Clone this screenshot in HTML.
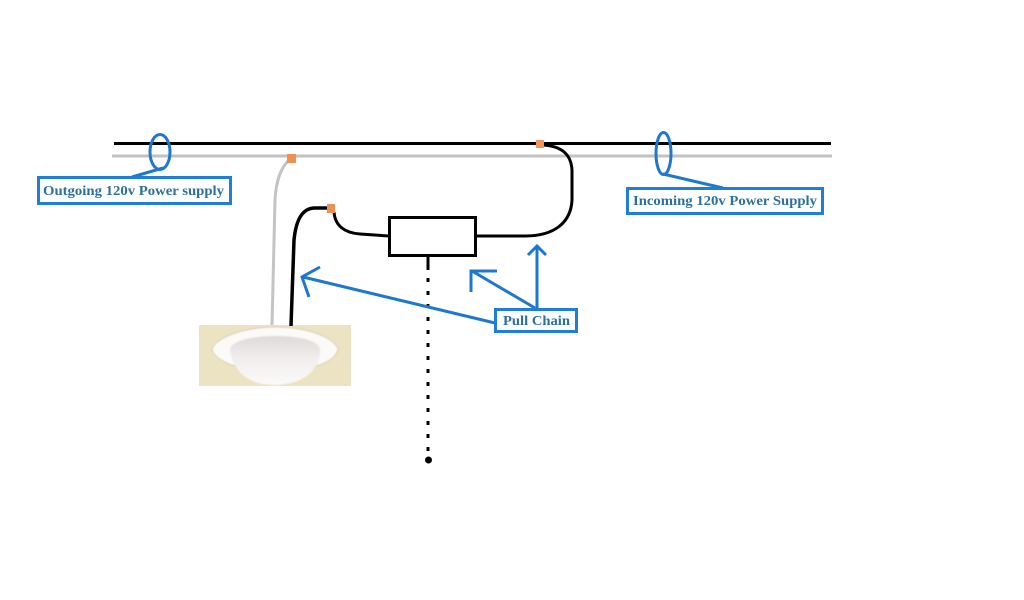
<!DOCTYPE html>
<html><head><meta charset="utf-8"><style>
html,body{margin:0;padding:0;background:#fff;width:1024px;height:600px;overflow:hidden}
svg{display:block}
text{font-family:"Liberation Serif",serif;font-weight:bold;font-size:14px;fill:#2b709f}
</style></head><body>
<svg width="1024" height="600" viewBox="0 0 1024 600" xmlns="http://www.w3.org/2000/svg">
<defs>
<linearGradient id="g" x1="0" y1="0" x2="0" y2="1"><stop offset="0" stop-color="#dedada"/><stop offset=".45" stop-color="#f0eded"/><stop offset="1" stop-color="#fcfaf8"/></linearGradient>
<filter id="s" x="-10%" y="-10%" width="120%" height="120%"><feGaussianBlur stdDeviation="0.8"/></filter>
</defs>
<rect width="1024" height="600" fill="#fff"/>
<!-- lamp -->
<rect x="199" y="325" width="152" height="61" fill="#ece3c3"/>
<g filter="url(#s)">
<path d="M212 349C218 335 250 327 275 327C302 327 332 335 338 349C336 358 325 366 300 369L250 369C228 366 214 358 212 349Z" fill="#fbfaf6" stroke="#a8a48c" stroke-width=".5"/>
<path d="M230 349C232 340 255 336 275 336C298 336 318 340 320 349C321 362 312 384 275 385C240 385 231 362 230 349Z" fill="url(#g)"/>
</g>
<!-- mains -->
<line x1="112" y1="156" x2="832" y2="156" stroke="#c2c2c2" stroke-width="3"/>
<line x1="114" y1="143.500" x2="831" y2="143.500" stroke="#000" stroke-width="3"/>
<!-- wires -->
<path d="M290 159C280 168 276 182 275 200L272 325" fill="none" stroke="#c4c4c4" stroke-width="3"/>
<path d="M331 208L315 208C302 208 296 220 294 240L291 326" fill="none" stroke="#000" stroke-width="3.500"/>
<path d="M334 212C335 226 345 233 360 234L389 236" fill="none" stroke="#000" stroke-width="3"/>
<path d="M476 236L525 236C555 236 571 222 572 200L572 170C571 153 560 146 543 145" fill="none" stroke="#000" stroke-width="3"/>
<!-- switch -->
<rect x="389.500" y="217.500" width="86" height="38" fill="#fff" stroke="#000" stroke-width="3"/>
<!-- chain -->
<line x1="428" y1="256" x2="428" y2="270" stroke="#000" stroke-width="3"/>
<line x1="428" y1="278" x2="428" y2="456" stroke="#000" stroke-width="3" stroke-dasharray="4 9"/>
<circle cx="428.500" cy="460" r="3.500" fill="#000"/>
<!-- connectors -->
<rect x="536" y="140" width="8" height="8" fill="#ee9560"/>
<rect x="287" y="154" width="9" height="9" fill="#ef8f52"/>
<rect x="327" y="204" width="8" height="9" fill="#ef8f52"/>
<!-- ovals -->
<g fill="none" stroke="#1f78d0" stroke-width="3">
<ellipse cx="160" cy="152" rx="10" ry="17.500"/>
<ellipse cx="663.500" cy="153.500" rx="7.500" ry="21"/>
<path d="M163 168L132 177"/>
<path d="M663 174L723 188"/>
<!-- arrows -->
<path d="M495 323L303 277M320 267L302 277L309 297"/>
<path d="M535 308L472 271M497 271L471 271L471 292"/>
<path d="M537 308L537 247M528 255L537 246L546 255"/>
</g>
<!-- labels -->
<g fill="#fff" stroke="#1f7fd6" stroke-width="3">
<rect x="38.500" y="177.500" width="192" height="26"/>
<rect x="627.500" y="188.500" width="195" height="25"/>
<rect x="495.500" y="309.500" width="81" height="22"/>
</g>
<text x="43" y="195" textLength="181" lengthAdjust="spacingAndGlyphs">Outgoing 120v Power supply</text>
<text x="633" y="205" textLength="184" lengthAdjust="spacingAndGlyphs">Incoming 120v Power Supply</text>
<text x="503" y="325" textLength="67" lengthAdjust="spacingAndGlyphs">Pull Chain</text>
</svg>
</body></html>
